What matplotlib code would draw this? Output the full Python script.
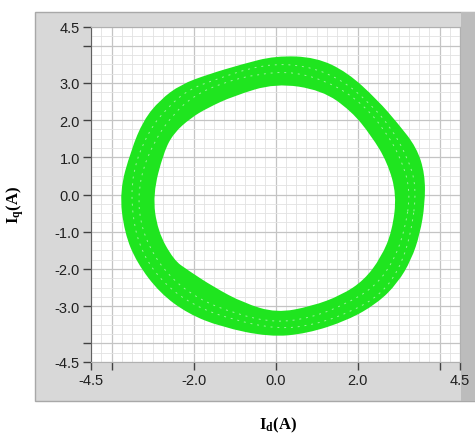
import matplotlib
matplotlib.use("Agg")
import matplotlib.pyplot as plt
from matplotlib.patches import Rectangle, PathPatch
from matplotlib.path import Path
from matplotlib.ticker import MultipleLocator

plt.rcParams["font.family"] = ["Liberation Sans", "DejaVu Sans"]
plt.rcParams["mathtext.fontset"] = "custom"
plt.rcParams["mathtext.bf"] = "Liberation Serif:bold"
plt.rcParams["mathtext.rm"] = "Liberation Serif"

# Outer and inner edge of the current trajectory band (Id, Iq in A)
outer_id = [3.62, 3.42, 2.96, 2.47, 1.74, 0.98, 0.00, -0.82, -1.64, -2.30, -2.80, -3.20,
            -3.50, -3.78, -3.66, -3.36, -2.80, -2.12, -1.32, -0.15, 0.76, 1.74, 2.47,
            2.96, 3.29, 3.50, 3.62]
outer_iq = [0.55, 1.25, 1.90, 2.52, 3.26, 3.66, 3.70, 3.47, 3.20, 2.93, 2.52, 1.98,
            1.18, 0.08, -1.02, -1.82, -2.63, -3.18, -3.53, -3.80, -3.71, -3.36, -2.90,
            -2.36, -1.74, -1.05, -0.25]
inner_id = [2.98, 2.75, 2.36, 1.87, 1.14, 0.00, -1.04, -1.67, -2.08, -2.50, -2.75,
            -3.02, -2.90, -2.50, -2.16, -1.52, -0.79, 0.02, 0.89, 1.62, 2.18, 2.60, 2.87]
inner_iq = [0.00, 0.88, 1.59, 2.26, 2.83, 3.02, 2.67, 2.35, 2.08, 1.67, 1.15,
            0.00, -0.99, -1.78, -2.05, -2.51, -2.94, -3.21, -3.03, -2.73, -2.32, -1.70, -0.99]
# traces through the band (light streaks)
mid_id = [3.30, 3.05, 2.65, 2.15, 1.45, 0.50, -0.40, -1.30, -2.00, -2.50, -2.95, -3.30,
          -3.35, -3.10, -2.60, -1.90, -1.00, 0.00, 0.90, 1.70, 2.40, 2.85, 3.15]
mid_iq = [0.10, 1.00, 1.75, 2.40, 2.95, 3.30, 3.25, 3.00, 2.65, 2.15, 1.45, 0.50,
          -0.50, -1.40, -2.20, -2.80, -3.20, -3.45, -3.30, -2.95, -2.50, -1.85, -1.00]
mid2_id = [3.45, 3.20, 2.80, 2.30, 1.60, 0.70, -0.30, -1.45, -2.15, -2.65, -3.10, -3.50,
           -3.50, -3.25, -2.72, -2.00, -1.10, 0.05, 0.95, 1.85, 2.55, 3.00, 3.30]
mid2_iq = [0.20, 1.05, 1.82, 2.45, 3.10, 3.48, 3.50, 3.10, 2.80, 2.32, 1.70, 0.60,
           -0.60, -1.60, -2.40, -2.98, -3.35, -3.62, -3.50, -3.15, -2.70, -2.05, -1.10]

x_ticks = [-4.5, -4, -2, 0, 2, 4, 4.5]
x_labels = ["-4.5", "", "-2.0", "0.0", "2.0", "", "4.5"]
y_ticks = [4.5, 4, 3, 2, 1, 0, -1, -2, -3, -4, -4.5]
y_labels = ["4.5", "", "3.0", "2.0", "1.0", "0.0", "-1.0", "-2.0", "-3.0", "", "-4.5"]


def smooth_loop(xs, ys):
    # closed quadratic-bezier loop using the read points as control points
    pts = list(zip(xs, ys))
    n = len(pts)
    mids = [((pts[i][0] + pts[(i + 1) % n][0]) / 2, (pts[i][1] + pts[(i + 1) % n][1]) / 2)
            for i in range(n)]
    verts = [mids[-1]]
    codes = [Path.MOVETO]
    for i in range(n):
        verts += [pts[i], mids[i]]
        codes += [Path.CURVE3, Path.CURVE3]
    return verts, codes


fig = plt.figure(figsize=(4.75, 4.39), dpi=100)
fig.patch.set_facecolor("white")

# gray panel frame
fig.patches.append(Rectangle((35 / 475, 1 - 402 / 439), 440 / 475, 389 / 439,
                             transform=fig.transFigure, facecolor="#d8d8d8",
                             edgecolor="#a8a8a8", lw=1, zorder=-2))
fig.patches.append(Rectangle((461 / 475, 1 - 402 / 439), 14 / 475, 389 / 439,
                             transform=fig.transFigure, facecolor="#bcbcbc",
                             edgecolor="none", zorder=-1))

ax = fig.add_axes([91 / 475, 1 - 363 / 439, 369 / 475, 335 / 439])
ax.set_zorder(1)
ax.set_facecolor("white")
ax.set_xlim(-4.5, 4.5)
ax.set_ylim(-4.5, 4.5)

# grid
ax.xaxis.set_minor_locator(MultipleLocator(0.25))
ax.yaxis.set_minor_locator(MultipleLocator(0.25))
ax.grid(which="minor", color="#e2e2e2", lw=0.6)
ax.grid(which="major", color="#c4c4c4", lw=0.9)
ax.set_axisbelow(True)

# band
ov, oc = smooth_loop(outer_id, outer_iq)
iv, ic = smooth_loop(inner_id[::-1], inner_iq[::-1])
band = PathPatch(Path(ov + iv, oc + ic), facecolor="#1fe51f", edgecolor="#1fe51f",
                 lw=1.5, zorder=3)
ax.add_patch(band)
for tx, ty in [(mid_id, mid_iq), (mid2_id, mid2_iq)]:
    v, c = smooth_loop(tx, ty)
    ax.add_patch(PathPatch(Path(v, c), facecolor="none", edgecolor="white", lw=0.7,
                           alpha=0.55, linestyle=(0, (2, 5)), zorder=4))

ax.set_xticks(x_ticks)
ax.set_xticklabels(x_labels)
ax.set_yticks(y_ticks)
ax.set_yticklabels(y_labels)
ax.tick_params(which="major", direction="out", length=6, width=1,
               color="#404040", labelsize=10.5, labelcolor="#202020", pad=2)
ax.tick_params(which="minor", length=0)

for side in ["top", "right", "bottom"]:
    ax.spines[side].set_color("#b0b0b0")
ax.spines["left"].set_color("#606060")

fig.text(15 / 475, 1 - 205 / 439, r"$\mathbf{I_q(A)}$", rotation=90,
         ha="center", va="center", fontsize=12)
fig.text(278 / 475, 1 - 425 / 439, r"$\mathbf{I_d(A)}$",
         ha="center", va="center", fontsize=12)

fig.savefig("out.png", dpi=100)
